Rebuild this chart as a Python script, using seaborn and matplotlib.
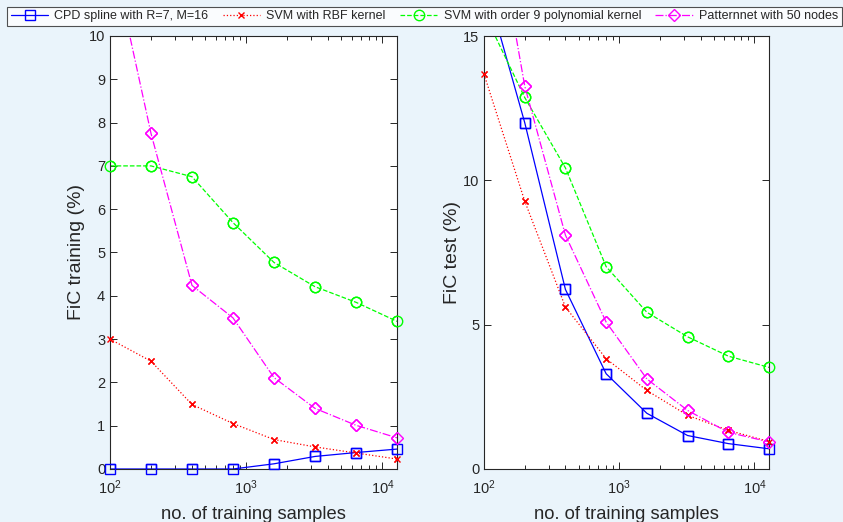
import matplotlib
matplotlib.use("Agg")
import matplotlib.pyplot as plt
import seaborn as sns
import pandas as pd
import numpy as np

# Training set sizes
n_samples = [100, 200, 400, 800, 1600, 3200, 6400, 12800]

series_names = [
    "CPD spline with R=7, M=16",
    "SVM with RBF kernel",
    "SVM with order 9 polynomial kernel",
    "Patternnet with 50 nodes",
]

# FiC on the training set (%)
train_cpd = [0.0, 0.0, 0.0, 0.0, 0.12, 0.29, 0.38, 0.46]
train_rbf = [3.0, 2.49, 1.49, 1.05, 0.68, 0.51, 0.37, 0.23]
train_poly = [7.0, 7.0, 6.75, 5.69, 4.77, 4.21, 3.85, 3.41]
train_pnet = [12.1, 7.75, 4.24, 3.49, 2.11, 1.40, 1.01, 0.72]

# FiC on the test set (%)
test_cpd = [17.0, 12.0, 6.22, 3.30, 1.93, 1.16, 0.88, 0.70]
test_rbf = [13.68, 9.28, 5.61, 3.82, 2.72, 1.86, 1.34, 0.95]
test_poly = [15.8, 12.87, 10.43, 7.01, 5.43, 4.58, 3.91, 3.52]
test_pnet = [21.3, 13.27, 8.10, 5.09, 3.12, 2.03, 1.27, 0.94]

colors = ["#0000ff", "#ff0000", "#00ff00", "#ff00ff"]
linestyles = ["-", ":", "--", "-."]
markers = ["s", "x", "o", "D"]
marker_sizes = [6.5, 5.0, 7.5, 6.0]

sns.set_style("ticks")
plt.rcParams["font.family"] = ["Liberation Sans", "DejaVu Sans"]
plt.rcParams["mathtext.fontset"] = "custom"
plt.rcParams["mathtext.rm"] = "Liberation Sans"
plt.rcParams["xtick.direction"] = "in"
plt.rcParams["ytick.direction"] = "in"

bg = "#eaf4fb"
ink = "#262626"

fig = plt.figure(figsize=(8.43, 5.22), dpi=100, facecolor=bg)
W, H = 843, 522
ax_train = fig.add_axes([110 / W, 53 / H, 287 / W, 433 / H])
ax_test = fig.add_axes([484 / W, 53 / H, 285 / W, 433 / H])


def draw(ax, values_list, ymax):
    for name, vals, c, ls, mk, ms in zip(series_names, values_list, colors,
                                         linestyles, markers, marker_sizes):
        df = pd.DataFrame({"n": n_samples, "fic": vals})
        # connecting line with markers, clipped to the axes box
        sns.lineplot(data=df, x="n", y="fic", ax=ax, color=c, linestyle=ls,
                     linewidth=0.9, marker=mk, markersize=ms,
                     markerfacecolor="none", markeredgecolor=c,
                     markeredgewidth=1.0, label=name)
        # markers inside the value range are drawn whole at the axes edges
        vis = df[df["fic"] <= ymax]
        sns.lineplot(data=vis, x="n", y="fic", ax=ax, color=c,
                     linestyle="none", marker=mk, markersize=ms,
                     markerfacecolor="none", markeredgecolor=c,
                     markeredgewidth=1.0, clip_on=False, zorder=3)
    leg = ax.get_legend()
    if leg is not None:
        leg.remove()


draw(ax_train, [train_cpd, train_rbf, train_poly, train_pnet], 10)
draw(ax_test, [test_cpd, test_rbf, test_poly, test_pnet], 15)

for ax in (ax_train, ax_test):
    ax.set_facecolor("white")
    ax.set_xscale("log")
    ax.set_xlim(100, 12800)
    ax.tick_params(which="both", top=True, right=True, colors=ink,
                   labelsize=10.5, width=0.7)
    ax.tick_params(which="major", length=5)
    ax.tick_params(which="minor", length=3)
    ax.tick_params(axis="x", pad=7)
    for sp in ax.spines.values():
        sp.set_visible(True)
        sp.set_color(ink)
        sp.set_linewidth(0.8)
    ax.set_xlabel("no. of training samples", fontsize=13.2, color=ink,
                  labelpad=6)

ax_train.set_ylim(0, 10)
ax_train.set_yticks(range(0, 11))
ax_train.set_ylabel("FiC training (%)", fontsize=14, color=ink, labelpad=3)

ax_test.set_ylim(0, 15)
ax_test.set_yticks([0, 5, 10, 15])
ax_test.set_ylabel("FiC test (%)", fontsize=14, color=ink, labelpad=1.5)

handles, labels = ax_train.get_legend_handles_labels()
handles, labels = handles[:4], labels[:4]
leg = fig.legend(handles, labels, ncol=4, loc="lower left",
                 bbox_to_anchor=(7 / W, (H - 26) / H, 835 / W, 21 / H),
                 mode="expand", fontsize=9, frameon=True, fancybox=False,
                 handlelength=3.0, handletextpad=0.5, borderpad=0.3,
                 borderaxespad=0.0, columnspacing=0.8)
leg.get_frame().set_edgecolor(ink)
leg.get_frame().set_linewidth(0.8)
leg.get_frame().set_facecolor("white")

fig.savefig("out.png", dpi=100, facecolor=bg)
